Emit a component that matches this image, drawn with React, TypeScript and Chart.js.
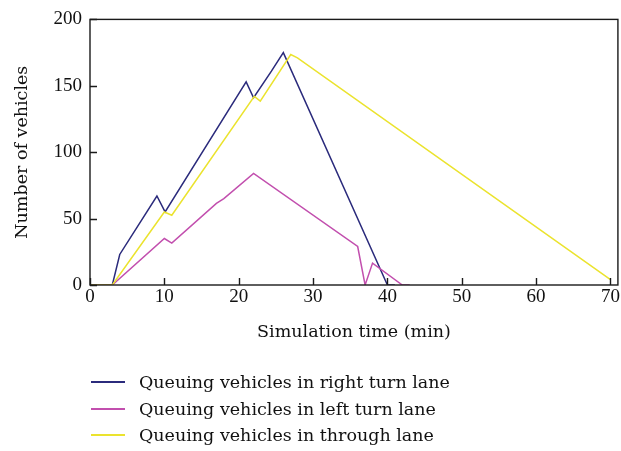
import React, { useEffect, useRef } from "react";
import { Chart, registerables } from "chart.js";

Chart.register(...registerables);

// Simulation time (min) and queue length for each lane
const rightTurnTime = [0, 3, 4, 9, 10.1, 21, 22, 24.4, 26, 40, 41];
const rightTurnQueue = [0, 0, 23, 67, 55, 153, 141, 161, 175, 0, 0];

const leftTurnTime = [0, 3, 10, 11, 17, 18, 22, 36, 37, 38, 42, 43];
const leftTurnQueue = [0, 0, 35, 31.5, 61.5, 65, 84, 29, 0, 16.5, 0, 0];

const throughTime = [0, 3, 10, 11, 22.1, 22.9, 27, 27.9, 70];
const throughQueue = [0, 0, 55, 52.5, 142, 138.5, 173.5, 171, 4];

const xTicks = [0, 10, 20, 30, 40, 50, 60, 70];
const yTicks = [0, 50, 100, 150, 200];

const seriesNames = [
  "Queuing vehicles in right turn lane",
  "Queuing vehicles in left turn lane",
  "Queuing vehicles in through lane",
];
const seriesColors = ["#2b2b7c", "#c24fae", "#ebe32e"];

const TICK_FONT = "'Liberation Serif', 'Times New Roman', serif";
const TEXT_FONT = "'DejaVu Serif', serif";
const TEXT_SIZE = 17.5;

function toPoints(t: number[], q: number[]) {
  return t.map((x, i) => ({ x, y: q[i] }));
}

const frameTicksPlugin = {
  id: "frameTicks",
  afterDatasetsDraw(chart: any) {
    const { ctx, chartArea } = chart;
    const xs = chart.scales.x;
    const ys = chart.scales.y;
    ctx.save();
    ctx.strokeStyle = "#1a1a1a";
    ctx.lineWidth = 1.4;
    ctx.strokeRect(chartArea.left, chartArea.top, chartArea.right - chartArea.left, chartArea.bottom - chartArea.top);
    ctx.beginPath();
    const tl = 7;
    xTicks.forEach((v) => {
      const px = Math.round(xs.getPixelForValue(v)) + 0.5;
      ctx.moveTo(px, chartArea.bottom);
      ctx.lineTo(px, chartArea.bottom - tl);
    });
    yTicks.forEach((v) => {
      const py = Math.round(ys.getPixelForValue(v)) + 0.5;
      ctx.moveTo(chartArea.left, py);
      ctx.lineTo(chartArea.left + tl, py);
    });
    ctx.stroke();
    ctx.restore();
  },
};

export default function App() {
  const ref = useRef<HTMLCanvasElement | null>(null);

  useEffect(() => {
    if (!ref.current) return;
    const series = [
      toPoints(rightTurnTime, rightTurnQueue),
      toPoints(leftTurnTime, leftTurnQueue),
      toPoints(throughTime, throughQueue),
    ];
    const chart = new Chart(ref.current, {
      type: "line",
      data: {
        datasets: series.map((d, i) => ({
          label: seriesNames[i],
          data: d,
          borderColor: seriesColors[i],
          backgroundColor: seriesColors[i],
          borderWidth: 1.5,
          pointRadius: 0,
          tension: 0,
          fill: false,
          order: 2 - i,
        })),
      },
      options: {
        animation: false,
        responsive: false,
        layout: { padding: { top: 14, right: 1.6, left: 0, bottom: 106 } },
        plugins: { legend: { display: false }, tooltip: { enabled: false } },
        scales: {
          x: {
            type: "linear",
            min: 0,
            max: 71,
            grid: { display: false, drawTicks: false },
            border: { display: false },
            afterBuildTicks: (s: any) => {
              s.ticks = xTicks.map((v) => ({ value: v }));
            },
            afterFit: (s: any) => {
              s.height = 60;
            },
            ticks: {
              color: "#111",
              font: { family: TICK_FONT, size: 19 },
              padding: 1,
              maxRotation: 0,
            },
            title: {
              display: true,
              text: "Simulation time (min)",
              color: "#111",
              font: { family: TEXT_FONT, size: TEXT_SIZE },
              padding: { top: 0, bottom: 2 },
            },
          },
          y: {
            min: 0,
            max: 200,
            grid: { display: false, drawTicks: false },
            border: { display: false },
            afterBuildTicks: (s: any) => {
              s.ticks = yTicks.map((v) => ({ value: v }));
            },
            afterFit: (s: any) => {
              s.width = 90;
            },
            ticks: {
              color: "#111",
              font: { family: TICK_FONT, size: 19 },
              padding: 8,
            },
            title: {
              display: true,
              text: "Number of vehicles",
              color: "#111",
              font: { family: TEXT_FONT, size: TEXT_SIZE },
              padding: { top: 11.5, bottom: 0 },
            },
          },
        },
      },
      plugins: [frameTicksPlugin],
    });
    return () => chart.destroy();
  }, []);

  return (
    <div style={{ position: "absolute", left: 0, top: 0, width: 621, height: 451, background: "#fff" }}>
      <canvas ref={ref} width={621} height={451} style={{ width: 621, height: 451, display: "block" }} />
      {seriesNames.map((name, i) => (
        <div
          key={name}
          style={{
            position: "absolute",
            left: 91,
            top: 369 + i * 26.7,
            height: 26,
            display: "flex",
            alignItems: "center",
            fontFamily: TEXT_FONT,
            fontSize: TEXT_SIZE,
            color: "#111",
            whiteSpace: "nowrap",
          }}
        >
          <span style={{ display: "inline-block", width: 34, height: 2, background: seriesColors[i], marginRight: 14 }} />
          <span>{name}</span>
        </div>
      ))}
    </div>
  );
}
